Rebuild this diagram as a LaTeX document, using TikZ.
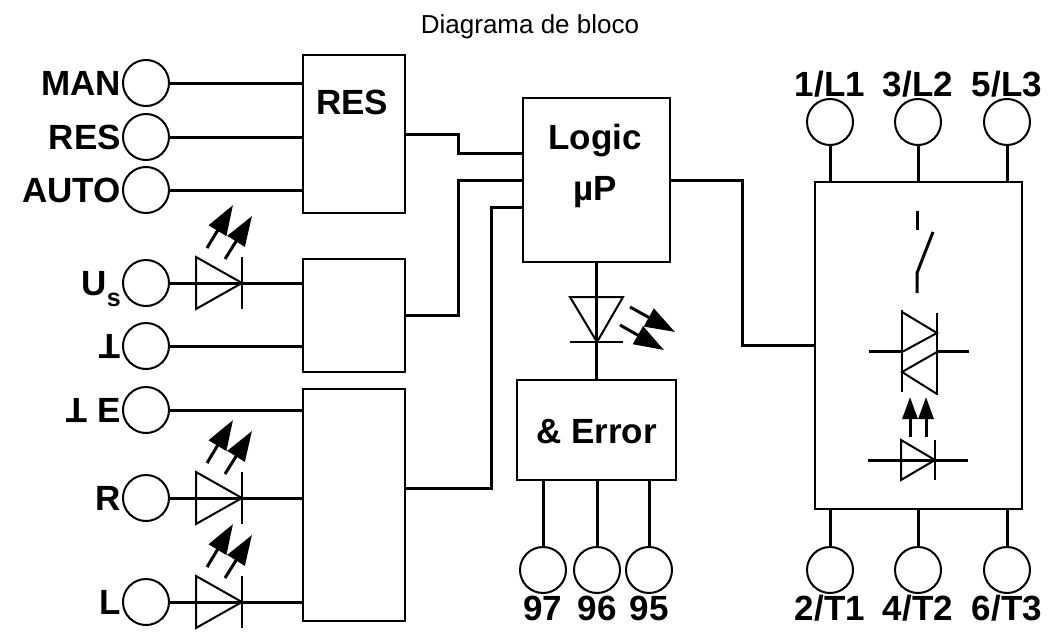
\documentclass[tikz,border=0pt]{standalone}
\usepackage{fontspec}
\setmainfont{Liberation Sans}
\usetikzlibrary{arrows.meta}
\tikzset{
  wire/.style={line width=3pt},
  box/.style={draw, line width=2pt, inner sep=0pt},
  term/.style={circle, draw, line width=2pt, minimum size=46pt, inner sep=0pt},
  lterm/.style={term, label distance=4pt},
  tterm/.style={term, label distance=14pt},
  bterm/.style={term, label distance=10pt},
  lbl/.style={font=\bfseries\fontsize{35}{40}\selectfont, text height=25pt, text depth=0pt, inner sep=1pt},
  txt/.style={font=\bfseries\fontsize{35}{40}\selectfont, anchor=base, inner sep=0pt},
  sym/.style={line width=2pt, line join=miter},
  bar/.style={line width=2.6pt},
  ray/.style={line width=3pt, -{Triangle[length=30pt, width=20pt]}},
  upray/.style={line width=3pt, -{Triangle[length=22pt, width=15pt]}},
}
\newcommand{\gnd}{\rotatebox[origin=c]{180}{T}}

\begin{document}
\begin{tikzpicture}[x=1pt, y=-1pt]
    \useasboundingbox (0,0) rectangle (1050,632);
    \node[font=\fontsize{26}{30}\selectfont, anchor=base] (title) at (530,33) {Diagrama de bloco};
    % blocks
    \node[box, minimum width=102pt, minimum height=158pt] (resbox) at (354,134) {};
    \node[box, minimum width=102pt, minimum height=113pt] (midbox) at (354,315.5) {};
    \node[box, minimum width=102pt, minimum height=232pt] (botbox) at (354,505) {};
    \node[box, minimum width=147pt, minimum height=164pt] (logic) at (596.5,180) {};
    \node[box, minimum width=159pt, minimum height=100pt] (err) at (596.5,430) {};
    \node[box, minimum width=207pt, minimum height=327pt] (sw) at (918.5,345.5) {};
    \node[txt] (restxt) at (352,114) {RES};
    \node[txt] (logictxt) at (595,149) {Logic};
    \node[txt] (uptxt) at (595.5,200) {µP};
    \node[txt] (errtxt) at (596.5,443) {\& Error};
    % left terminals
    \node[lterm, label={[lbl]left:MAN}] (tman) at (146,83) {};
    \node[lterm, label={[lbl]left:RES}] (tres) at (146,137) {};
    \node[lterm, label={[lbl]left:AUTO}] (tauto) at (146,190) {};
    \node[lterm, label={[lbl]left:U\raisebox{-11pt}{\fontsize{25}{25}\selectfont s}}] (tus) at (146,283) {};
    \node[lterm, label={[lbl]left:\gnd}] (tgnd) at (146,346) {};
    \node[lterm, label={[lbl]left:\gnd{} E}] (tgnde) at (146,410) {};
    \node[lterm, label={[lbl]left:R}] (tr) at (146,498) {};
    \node[lterm, label={[lbl]left:L}] (tl) at (146,602) {};
    \foreach \t/\b in {tman/resbox, tres/resbox, tauto/resbox, tus/midbox, tgnd/midbox, tgnde/botbox, tr/botbox, tl/botbox}
        \draw[wire] (\t.east) -- (\t.east -| \b.west);
    % LEDs in the input lines
    \foreach \y in {283,498,602} {
        \draw[sym] (196,{\y-26}) -- (196,{\y+26}) -- (242,\y) -- cycle;
        \draw[bar] (242,{\y-26}) -- (242,{\y+26});
        \draw[ray] (207,{\y-35}) -- (233,{\y-78});
        \draw[ray] (225,{\y-24}) -- (252,{\y-67});
    }
    % into the logic
    \draw[wire] (resbox.east) -- ++(52,0) |- ([yshift=27pt]logic.west);
    \draw[wire] (midbox.east) -- ++(52,0) |- (logic.west);
    \draw[wire] ([yshift=17pt]botbox.east) -- ++(85,0) |- ([yshift=-27pt]logic.west);
    \draw[wire] (logic.east) -- ++(71,0) |- (sw.west);
    % error LED
    \draw[wire] (logic.south) -- (err.north);
    \draw[sym] (570,297) -- (623,297) -- (597,342) -- cycle;
    \draw[bar] (570,342) -- (623,342);
    \draw[ray] (630,307) -- (675,332);
    \draw[ray] (620,325) -- (664,350);
    % relay terminals
    \node[bterm, label={[lbl]below:97}] (t97) at (543,570) {};
    \node[bterm, label={[lbl]below:96}] (t96) at (597,570) {};
    \node[bterm, label={[lbl]below:95}] (t95) at (649,570) {};
    \foreach \n in {t97,t96,t95}
        \draw[wire] (\n.north) -- (\n.north |- err.south);
    % power terminals
    \node[tterm, label={[lbl]above:1/L1}] (l1) at (830,122) {};
    \node[tterm, label={[lbl]above:3/L2}] (l2) at (918,122) {};
    \node[tterm, label={[lbl]above:5/L3}] (l3) at (1007,122) {};
    \node[bterm, label={[lbl]below:2/T1}] (t1) at (830,570) {};
    \node[bterm, label={[lbl]below:4/T2}] (t2) at (918,570) {};
    \node[bterm, label={[lbl]below:6/T3}] (t3) at (1007,570) {};
    \foreach \n in {l1,l2,l3}
        \draw[wire] (\n.south) -- (\n.south |- sw.north);
    \foreach \n in {t1,t2,t3}
        \draw[wire] (\n.north) -- (\n.north |- sw.south);
    % switch, triac, opto
    \draw[wire] (917,211) -- (917,230);
    \draw[wire] (917,293) -- (917,273) -- (933,232);
    \draw[bar] (902,310) -- (902,392);
    \draw[bar] (937,313) -- (937,395);
    \draw[sym] (902,312) -- (937,333) -- (902,352);
    \draw[sym] (937,352) -- (902,372) -- (937,394);
    \draw[wire] (869,351) -- (902,351);
    \draw[wire] (937,351) -- (969,351);
    \draw[upray] (910,437) -- (910,397);
    \draw[upray] (926,437) -- (926,397);
    \draw[sym] (901,440) -- (901,480) -- (935,460) -- cycle;
    \draw[bar] (935,440) -- (935,480);
    \draw[wire] (868,460) -- (968,460);
\end{tikzpicture}
\end{document}
